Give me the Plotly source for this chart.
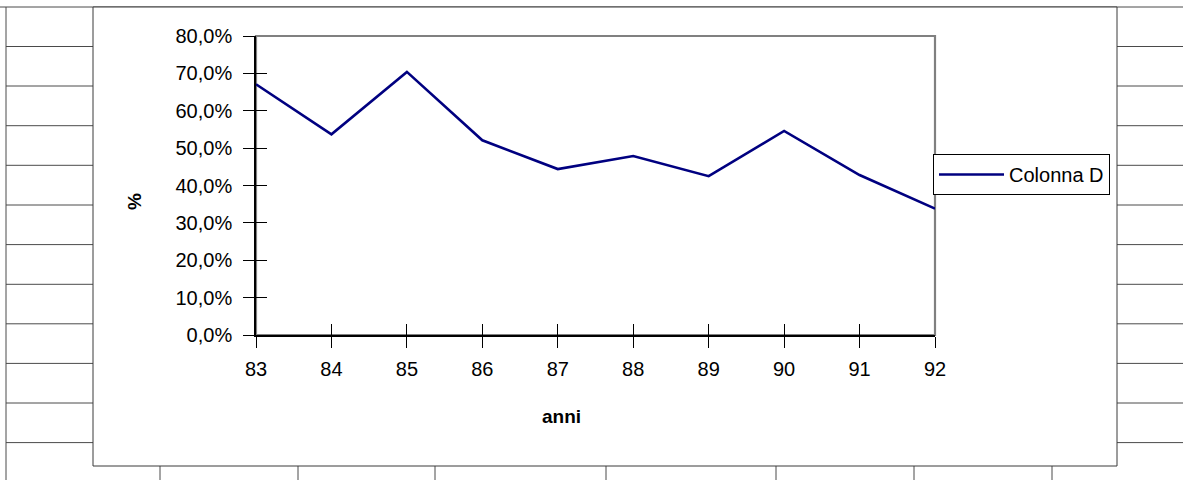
import plotly.graph_objects as go

# ---- data ----
anni = [83, 84, 85, 86, 87, 88, 89, 90, 91, 92]
anni_labels = ["83", "84", "85", "86", "87", "88", "89", "90", "91", "92"]
colonna_d = [67.1, 53.7, 70.4, 52.1, 44.4, 47.9, 42.5, 54.6, 42.8, 33.8]
y_ticks = [0, 10, 20, 30, 40, 50, 60, 70, 80]
y_tick_labels = ["0,0%", "10,0%", "20,0%", "30,0%", "40,0%", "50,0%", "60,0%", "70,0%", "80,0%"]
x_title = "anni"
y_title = "%"

FONT = "Liberation Sans, Arial, sans-serif"
W_PX, H_PX = 1183, 480
L, R, T, B = 256, 935, 36, 335
PW, PH = R - L, B - T


def px(X):
    return (X - L) / PW


def py(Y):
    return (B - Y) / PH


fig = go.Figure()
fig.add_trace(go.Scatter(
    x=anni, y=colonna_d, mode="lines", name="Colonna D",
    line=dict(color="#000080", width=2.6),
    xaxis="x", yaxis="y", hoverinfo="x+y",
))
fig.add_trace(go.Scatter(x=[], y=[], xaxis="x2", yaxis="y2", showlegend=False))

shapes = []
grid = dict(color="#4a4a4a", width=1)
# spreadsheet background grid
shapes.append(dict(type="line", xref="paper", yref="paper", x0=px(0), x1=px(W_PX), y0=py(7), y1=py(7), line=grid, layer="below"))
shapes.append(dict(type="line", xref="paper", yref="paper", x0=px(6), x1=px(6), y0=py(7), y1=py(H_PX), line=grid, layer="below"))
rows = [46.5, 86, 125.7, 165.3, 205, 244.6, 284.3, 323.8, 363.4, 403, 442.6]
for yy in rows:
    shapes.append(dict(type="line", xref="paper", yref="paper", x0=px(6), x1=px(93), y0=py(yy), y1=py(yy), line=grid, layer="below"))
    shapes.append(dict(type="line", xref="paper", yref="paper", x0=px(1117), x1=px(W_PX), y0=py(yy), y1=py(yy), line=grid, layer="below"))
for xx in [160, 298, 435, 606, 776, 914, 1052]:
    shapes.append(dict(type="line", xref="paper", yref="paper", x0=px(xx), x1=px(xx), y0=py(466), y1=py(H_PX), line=grid, layer="below"))
# chart area
shapes.append(dict(type="rect", xref="paper", yref="paper", x0=px(93), x1=px(1117), y0=py(466), y1=py(7),
                   line=dict(color="#3a3a3a", width=1), fillcolor="white", layer="below"))
# plot area border (gray)
shapes.append(dict(type="rect", xref="x domain", yref="y domain", x0=0, x1=1, y0=0, y1=1,
                   line=dict(color="#808080", width=2.2), layer="below"))
fig.update_layout(shapes=shapes)

axis_common = dict(showgrid=False, zeroline=False, showline=True, linecolor="#000000", linewidth=1.6,
                   tickcolor="#000000", tickwidth=1.2, ticklen=11)

fig.update_layout(
    width=W_PX, height=H_PX,
    margin=dict(l=L, r=W_PX - R, t=T, b=H_PX - B, autoexpand=False),
    paper_bgcolor="white", plot_bgcolor="rgba(0,0,0,0)",
    font=dict(family=FONT, size=20, color="#000000"),
    xaxis=dict(range=[83, 92], tickvals=anni, ticktext=anni_labels, ticks="outside",
               ticklabelstandoff=4, tickfont=dict(size=20), **axis_common),
    yaxis=dict(range=[0, 80], tickvals=y_ticks, ticktext=y_tick_labels, ticks="outside",
               ticklabelstandoff=7, tickfont=dict(size=20), **axis_common),
    xaxis2=dict(overlaying="x", anchor="y", side="bottom", range=[83, 92], tickvals=anni,
                ticks="inside", showticklabels=False, **axis_common),
    yaxis2=dict(overlaying="y", anchor="x", side="left", range=[0, 80], tickvals=y_ticks,
                ticks="inside", showticklabels=False, **axis_common),
    legend=dict(x=px(933), y=py(154), xanchor="left", yanchor="top",
                bordercolor="#000000", borderwidth=1, bgcolor="white",
                font=dict(size=20), itemwidth=65),
    showlegend=True,
    annotations=[
        dict(text="<b>" + x_title + "</b>", xref="paper", yref="paper", x=px(561), y=py(416),
             xanchor="center", yanchor="middle", showarrow=False, font=dict(size=19)),
        dict(text="<b>" + y_title + "</b>", xref="paper", yref="paper", x=px(134), y=py(202),
             xanchor="center", yanchor="middle", showarrow=False, textangle=-90, font=dict(size=19)),
    ],
)

fig.write_html("out.html", config={"displayModeBar": False},
               post_script="document.body.style.margin='0px';")
